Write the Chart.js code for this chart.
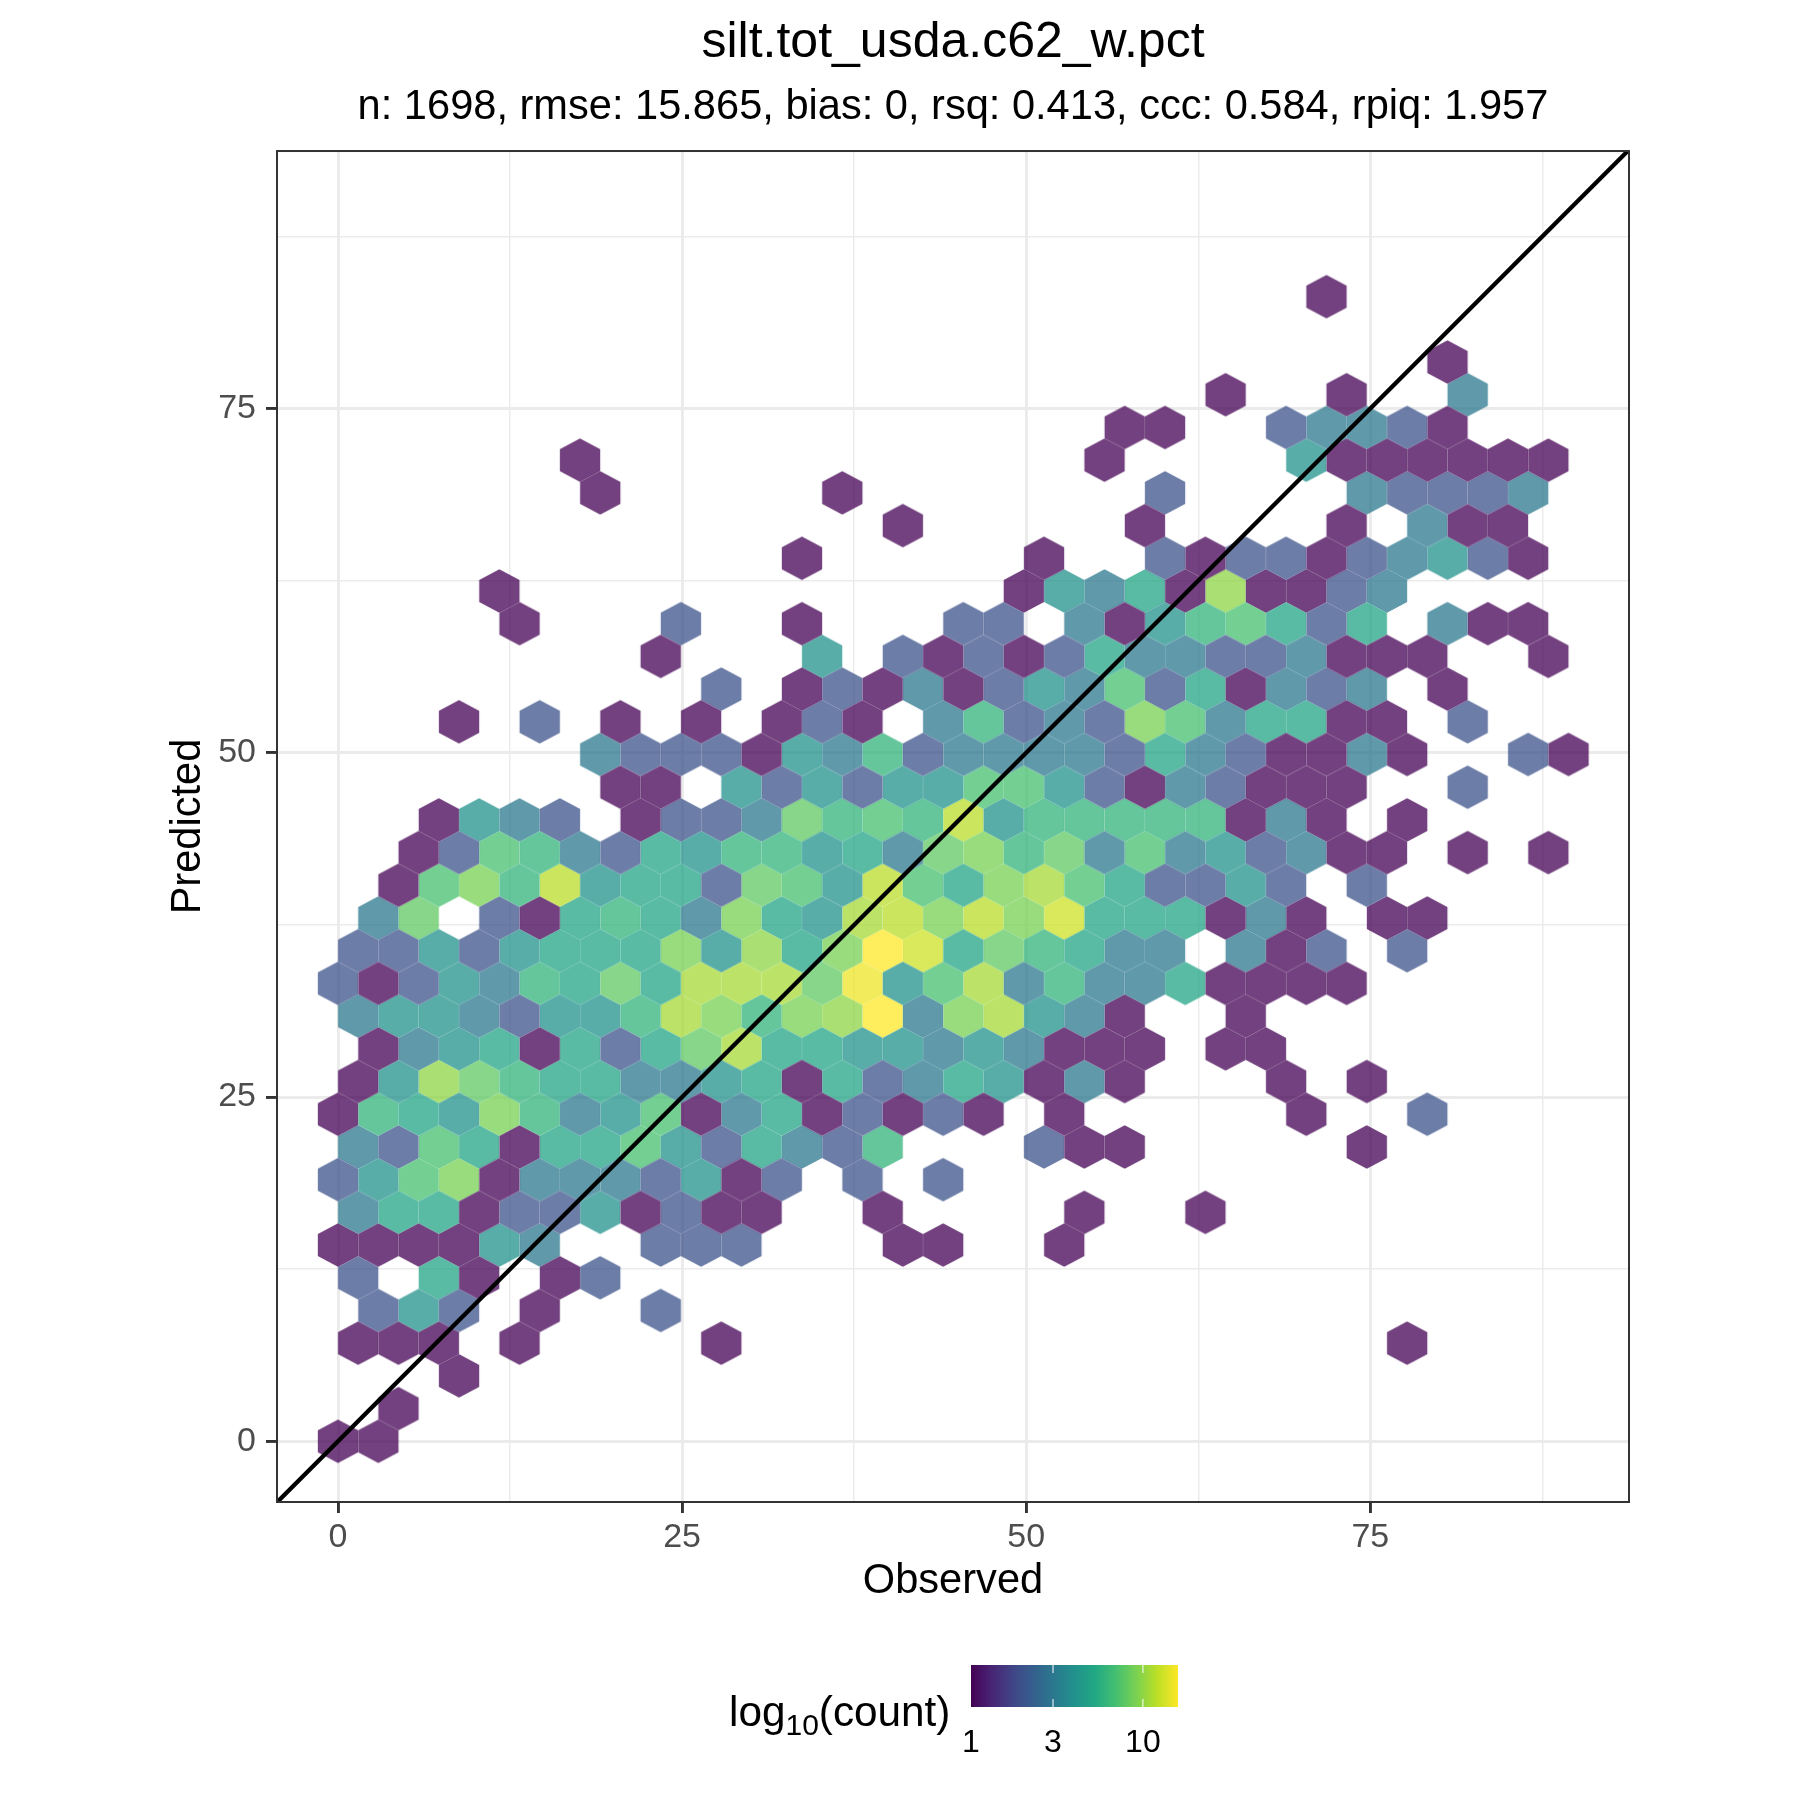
<!DOCTYPE html>
<html><head><meta charset="utf-8">
<style>html,body{margin:0;padding:0;background:#fff}canvas{display:block}</style>
<script src="https://cdn.jsdelivr.net/npm/chart.js@4/dist/chart.umd.min.js"></script>
</head><body><canvas id="c" width="1800" height="1800" style="width:1800px;height:1800px"></canvas>
<script>
const titleText = "silt.tot_usda.c62_w.pct";
const subtitleText = "n: 1698, rmse: 15.865, bias: 0, rsq: 0.413, ccc: 0.584, rpiq: 1.957";
const xLabel = "Observed", yLabel = "Predicted";
const tickValues = [0,12.5,25,37.5,50,62.5,75,87.5];
const xRange = [-4.43, 93.79];
const yRange = [-4.41, 93.70];
const identityLine = [-4.43, 93.79];
const legendTicks = [1,3,10];
const maxCount = 16;
// hexagon bin spacing in data units
const binDx = 2.931, binDy = 2.375;
// one array per hexbin row (predicted bin index = position in list); entries are [observed bin index, count]
const row00=[[0,1],[1,1]];
const row01=[[1.5,1]];
const row02=[[3,1]];
const row03=[[.5,1],[1.5,1],[2.5,1],[4.5,1],[9.5,1],[26.5,1]];
const row04=[[1,2],[2,4],[3,2],[5,1],[8,2]];
const row05=[[.5,2],[2.5,5],[3.5,1],[5.5,1],[6.5,2]];
const row06=[[0,1],[1,1],[2,1],[3,1],[4,4],[5,3],[8,2],[9,2],[10,2],[14,1],[15,1],[18,1]];
const row07=[[.5,3],[1.5,5],[2.5,5],[3.5,1],[4.5,2],[5.5,2],[6.5,4],[7.5,1],[8.5,2],[9.5,1],[10.5,1],[13.5,1],[18.5,1],[21.5,1]];
const row08=[[0,2],[1,4],[2,7],[3,9],[4,1],[5,3],[6,3],[7,3],[8,2],[9,4],[10,1],[11,2],[13,2],[15,2]];
const row09=[[.5,3],[1.5,2],[2.5,7],[3.5,5],[4.5,1],[5.5,5],[6.5,5],[7.5,7],[8.5,4],[9.5,2],[10.5,5],[11.5,3],[12.5,2],[13.5,6],[17.5,2],[18.5,1],[19.5,1],[25.5,1]];
const row10=[[0,1],[1,6],[2,5],[3,4],[4,9],[5,6],[6,3],[7,4],[8,7],[9,1],[10,3],[11,5],[12,1],[13,2],[14,1],[15,2],[16,1],[18,1],[24,1],[27,2]];
const row11=[[.5,1],[1.5,4],[2.5,10],[3.5,8],[4.5,6],[5.5,5],[6.5,5],[7.5,3],[8.5,3],[9.5,4],[10.5,5],[11.5,1],[12.5,5],[13.5,2],[14.5,3],[15.5,5],[16.5,4],[17.5,1],[18.5,3],[19.5,1],[23.5,1],[25.5,1]];
const row12=[[1,1],[2,3],[3,4],[4,5],[5,1],[6,5],[7,2],[8,5],[9,8],[10,11],[11,5],[12,5],[13,4],[14,4],[15,3],[16,4],[17,3],[18,1],[19,1],[20,1],[22,1],[23,1]];
const row13=[[.5,3],[1.5,4],[2.5,4],[3.5,3],[4.5,2],[5.5,4],[6.5,4],[7.5,6],[8.5,11],[9.5,9],[10.5,6],[11.5,9],[12.5,10],[13.5,16],[14.5,3],[15.5,9],[16.5,11],[17.5,4],[18.5,3],[19.5,1],[22.5,1]];
const row14=[[0,2],[1,1],[2,2],[3,4],[4,3],[5,6],[6,5],[7,8],[8,5],[9,11],[10,11],[11,11],[12,8],[13,15],[14,4],[15,7],[16,11],[17,3],[18,6],[19,3],[20,3],[21,5],[22,1],[23,1],[24,1],[25,1]];
const row15=[[.5,2],[1.5,2],[2.5,4],[3.5,2],[4.5,4],[5.5,5],[6.5,5],[7.5,5],[8.5,9],[9.5,4],[10.5,10],[11.5,5],[12.5,9],[13.5,16],[14.5,13],[15.5,5],[16.5,8],[17.5,6],[18.5,5],[19.5,3],[20.5,3],[22.5,3],[23.5,1],[24.5,2],[26.5,2]];
const row16=[[1,3],[2,8],[4,2],[5,1],[6,5],[7,6],[8,5],[9,3],[10,9],[11,5],[12,4],[13,11],[14,12],[15,9],[16,12],[17,9],[18,13],[19,5],[20,5],[21,5],[22,1],[23,3],[24,1],[26,1],[27,1]];
const row17=[[1.5,1],[2.5,7],[3.5,9],[4.5,6],[5.5,12],[6.5,4],[7.5,5],[8.5,5],[9.5,2],[10.5,8],[11.5,7],[12.5,4],[13.5,12],[14.5,7],[15.5,5],[16.5,9],[17.5,11],[18.5,7],[19.5,5],[20.5,2],[21.5,2],[22.5,4],[23.5,2],[25.5,2]];
const row18=[[2,1],[3,2],[4,7],[5,6],[6,3],[7,2],[8,5],[9,4],[10,6],[11,6],[12,4],[13,5],[14,3],[15,8],[16,9],[17,6],[18,8],[19,3],[20,7],[21,3],[22,4],[23,2],[24,3],[25,1],[26,1],[28,1],[30,1]];
const row19=[[2.5,1],[3.5,4],[4.5,3],[5.5,2],[7.5,1],[8.5,2],[9.5,2],[10.5,3],[11.5,8],[12.5,6],[13.5,7],[14.5,6],[15.5,12],[16.5,4],[17.5,6],[18.5,6],[19.5,6],[20.5,6],[21.5,6],[22.5,1],[23.5,3],[24.5,1],[26.5,1]];
const row20=[[7,1],[8,1],[10,4],[11,2],[12,4],[13,2],[14,4],[15,4],[16,7],[17,7],[18,4],[19,2],[20,1],[21,3],[22,2],[23,1],[24,1],[25,1],[28,2]];
const row21=[[6.5,3],[7.5,2],[8.5,2],[9.5,2],[10.5,1],[11.5,4],[12.5,3],[13.5,6],[14.5,2],[15.5,3],[16.5,3],[17.5,3],[18.5,3],[19.5,2],[20.5,5],[21.5,3],[22.5,2],[23.5,1],[24.5,1],[25.5,3],[26.5,1],[29.5,2],[30.5,1]];
const row22=[[3,1],[5,2],[7,1],[9,1],[11,1],[12,2],[13,1],[15,3],[16,6],[17,2],[18,3],[19,2],[20,9],[21,7],[22,3],[23,5],[24,5],[25,1],[26,1],[28,2]];
const row23=[[9.5,2],[11.5,1],[12.5,2],[13.5,1],[14.5,3],[15.5,1],[16.5,2],[17.5,4],[18.5,3],[19.5,7],[20.5,2],[21.5,5],[22.5,1],[23.5,3],[24.5,2],[25.5,3],[27.5,1]];
const row24=[[8,1],[12,4],[14,2],[15,1],[16,2],[17,1],[18,2],[19,5],[20,3],[21,3],[22,2],[23,2],[24,3],[25,1],[26,1],[27,1],[30,1]];
const row25=[[4.5,1],[8.5,2],[11.5,1],[15.5,2],[16.5,2],[18.5,3],[19.5,1],[20.5,4],[21.5,6],[22.5,7],[23.5,5],[24.5,2],[25.5,5],[27.5,3],[28.5,1],[29.5,1]];
const row26=[[4,1],[17,1],[18,4],[19,3],[20,5],[21,1],[22,10],[23,1],[24,1],[25,2],[26,3]];
const row27=[[11.5,1],[17.5,1],[20.5,2],[21.5,1],[22.5,2],[23.5,2],[24.5,1],[25.5,2],[26.5,3],[27.5,4],[28.5,2],[29.5,1]];
const row28=[[14,1],[20,1],[25,1],[27,3],[28,1],[29,1]];
const row29=[[6.5,1],[12.5,1],[20.5,2],[25.5,3],[26.5,2],[27.5,2],[28.5,2],[29.5,3]];
const row30=[[6,1],[19,1],[24,4],[25,1],[26,1],[27,1],[28,1],[29,1],[30,1]];
const row31=[[19.5,1],[20.5,1],[23.5,2],[24.5,3],[25.5,3],[26.5,2],[27.5,1]];
const row32=[[22,1],[25,1],[28,3]];
const row33=[[27.5,1]];
const row34=[];
const row35=[[24.5,1]];
const allRows=[row00,row01,row02,row03,row04,row05,row06,row07,row08,row09,row10,row11,row12,row13,row14,row15,row16,row17,row18,row19,row20,row21,row22,row23,row24,row25,row26,row27,row28,row29,row30,row31,row32,row33,row34,row35];

const viridisStops=['#440154','#482475','#414487','#355f8d','#2a788e','#21918c','#22a884','#44bf70','#7ad151','#bddf26','#fde725'];
function hexRgb(h){return [1,3,5].map(i=>parseInt(h.substr(i,2),16));}
function viridis(t){t=Math.max(0,Math.min(1,t))*10;const i=Math.min(9,Math.floor(t)),f=t-i,a=hexRgb(viridisStops[i]),b=hexRgb(viridisStops[i+1]);
  return a.map((v,j)=>Math.round(v+(b[j]-v)*f));}
const FONT='"Liberation Sans", Arial, sans-serif';
const HW=20.17,HR=21.8;
function hexSprite(count){
  const c=document.createElement('canvas');c.width=46;c.height=48;const g=c.getContext('2d');
  const col=viridis(Math.log10(count)/Math.log10(maxCount));
  g.fillStyle=`rgba(${col[0]},${col[1]},${col[2]},0.75)`;
  g.translate(23,24);g.beginPath();
  g.moveTo(0,-HR);g.lineTo(HW,-HR/2);g.lineTo(HW,HR/2);g.lineTo(0,HR);g.lineTo(-HW,HR/2);g.lineTo(-HW,-HR/2);g.closePath();g.fill();
  return c;
}
const byCount={};
allRows.forEach((row,r)=>row.forEach(([k,n])=>{(byCount[n]=byCount[n]||[]).push({x:k*binDx,y:r*binDy});}));
const hexDatasets=Object.keys(byCount).map(n=>({label:'count '+n,data:byCount[n],pointStyle:hexSprite(+n),pointRadius:22,pointHoverRadius:22,showLine:false,order:1,clip:false}));

const isMajor=v=>v%25===0;
function axis(range,pad,extra){return Object.assign({type:'linear',min:range[0],max:range[1],
  afterBuildTicks(s){s.ticks=tickValues.map(v=>({value:v}));},
  ticks:{autoSkip:false,maxRotation:0,minRotation:0,padding:pad,color:'#4D4D4D',font:{family:FONT,size:34},callback:v=>isMajor(v)?String(v):''},
  border:{display:false},
  grid:{color:'#EBEBEB',lineWidth:c=>isMajor(c.tick.value)?2.9:1.45,tickLength:11,tickColor:c=>isMajor(c.tick.value)?'#333333':'rgba(0,0,0,0)',tickWidth:c=>isMajor(c.tick.value)?2.9:0}
},extra);}

const framePlugin={id:'frame',afterDatasetsDraw(ch){const a=ch.chartArea,g=ch.ctx;g.save();g.strokeStyle='#333333';g.lineWidth=2;g.strokeRect(a.left,a.top,a.right-a.left,a.bottom-a.top);g.restore();}};
const legendPlugin={id:'colorbar',afterDraw(ch){
  const g=ch.ctx,L=971,R=1178,T=1665,B=1707,W=R-L;g.save();
  const gr=g.createLinearGradient(L,0,R,0);
  for(let i=0;i<=40;i++){const c=viridis(i/40);gr.addColorStop(i/40,`rgb(${c[0]},${c[1]},${c[2]})`);}
  g.fillStyle=gr;g.fillRect(L,T,W,B-T);
  g.fillStyle='#000';g.textBaseline='alphabetic';g.textAlign='center';g.font='32px '+FONT;
  legendTicks.forEach(v=>{const x=L+W*Math.log10(v)/Math.log10(maxCount);
    g.fillText(String(v),x,1752);
    g.strokeStyle='#fff';g.lineWidth=1;
    if(v>1){g.beginPath();g.moveTo(x,T);g.lineTo(x,T+8);g.moveTo(x,B-8);g.lineTo(x,B);g.stroke();}
  });
  g.textAlign='left';let x=729;const y=1726;
  g.font='42.3px '+FONT;g.fillText('log',x,y);x+=g.measureText('log').width;
  g.font='30px '+FONT;g.fillText('10',x,y+9);x+=g.measureText('10').width;
  g.font='42.3px '+FONT;g.fillText('(count)',x,y);
  g.restore();
}};

new Chart(document.getElementById('c').getContext('2d'),{
  type:'scatter',
  data:{datasets:[{type:'scatter',label:'identity',data:[{x:identityLine[0],y:identityLine[0]},{x:identityLine[1],y:identityLine[1]}],showLine:true,borderColor:'#000',borderWidth:4.3,pointRadius:0,order:0}].concat(hexDatasets)},
  options:{responsive:false,devicePixelRatio:1,animation:false,
    layout:{padding:{left:0,right:171,top:0,bottom:0}},
    plugins:{legend:{display:false},tooltip:{enabled:false},
      title:{display:true,fullSize:false,text:titleText,color:'#000',font:{family:FONT,size:50,weight:'normal'},padding:{top:13,bottom:9.6}},
      subtitle:{display:true,fullSize:false,text:subtitleText,color:'#000',font:{family:FONT,size:41.6,weight:'normal',lineHeight:1.2},padding:{top:0,bottom:18.5}}},
    scales:{
      x:axis(xRange,4,{position:'bottom',afterFit(s){s.height=298;},title:{display:true,text:xLabel,color:'#000',font:{family:FONT,size:41.6},padding:{top:0,bottom:194}},}),
      y:axis(yRange,10,{position:'left',afterFit(s){s.width=277;},title:{display:true,text:yLabel,color:'#000',font:{family:FONT,size:41.6},padding:{top:163.3,bottom:0}},})
    }
  },
  plugins:[framePlugin,legendPlugin]
});
</script></body></html>
